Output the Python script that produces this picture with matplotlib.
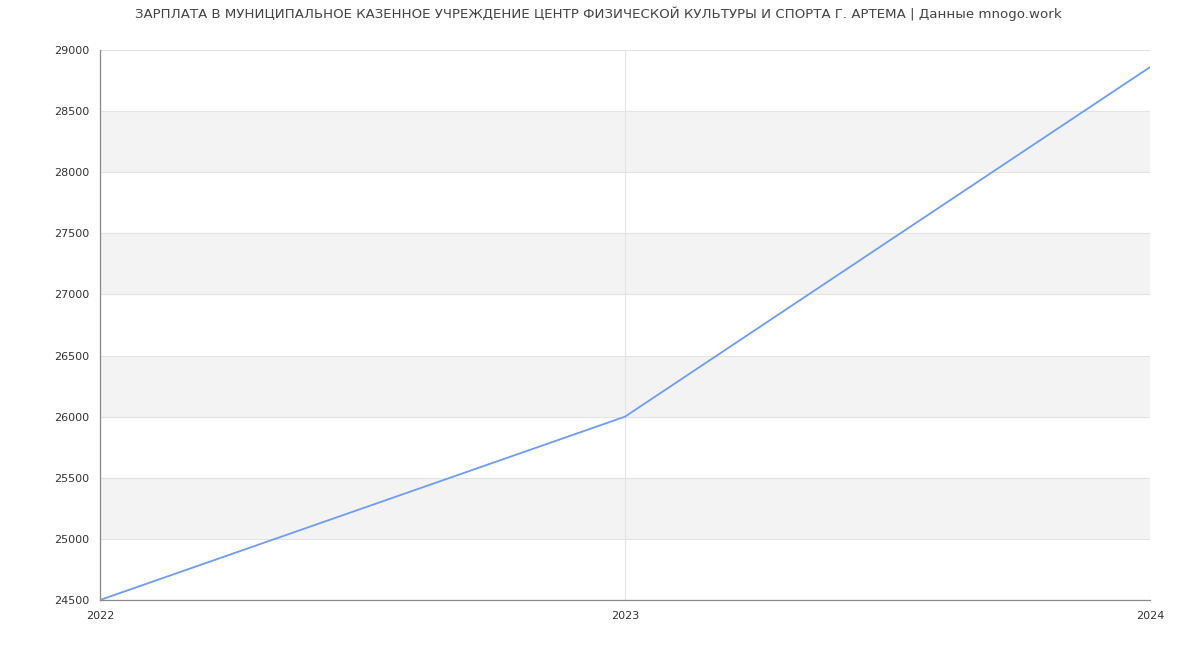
import matplotlib.pyplot as plt

# данные
years = [2022, 2023, 2024]
salary = [24500, 26000, 28860]
y_ticks = [24500, 25000, 25500, 26000, 26500, 27000, 27500, 28000, 28500, 29000]
title = "ЗАРПЛАТА В МУНИЦИПАЛЬНОЕ КАЗЕННОЕ УЧРЕЖДЕНИЕ ЦЕНТР ФИЗИЧЕСКОЙ КУЛЬТУРЫ И СПОРТА Г. АРТЕМА | Данные mnogo.work"

plt.rcParams['font.family'] = ['DejaVu Sans']

fig = plt.figure(figsize=(12, 6.5), dpi=100)
ax = fig.add_axes([100 / 1200, 50 / 650, 1050 / 1200, 550 / 650])

# чередующиеся полосы фона
for i in range(len(y_ticks) - 1):
    if i % 2 == 1:
        ax.axhspan(y_ticks[i], y_ticks[i + 1], color='#f3f3f3', zorder=0, lw=0)

for t in y_ticks:
    ax.axhline(t, color='#e3e3e3', lw=0.8, zorder=1)
for x in years:
    ax.axvline(x, color='#e3e3e3', lw=0.8, zorder=1)

ax.plot(years, salary, color='#6f9cf3', lw=1.3, zorder=3)

ax.set_xlim(2022, 2024)
ax.set_ylim(24500, 29000)
ax.set_xticks(years)
ax.set_yticks(y_ticks)
ax.tick_params(axis='both', length=0, labelsize=8, colors='#333333')
ax.tick_params(axis='y', pad=8)
ax.tick_params(axis='x', pad=8)

for side in ['top', 'right']:
    ax.spines[side].set_visible(False)
ax.spines['left'].set_color('#888888')
ax.spines['bottom'].set_color('#888888')
ax.spines['left'].set_linewidth(0.9)
ax.spines['bottom'].set_linewidth(0.9)

fig.text(598 / 1200, 1 - 14 / 650, title, ha='center', va='center', fontsize=9.65, color='#444444')

fig.savefig('out.png', dpi=100)
